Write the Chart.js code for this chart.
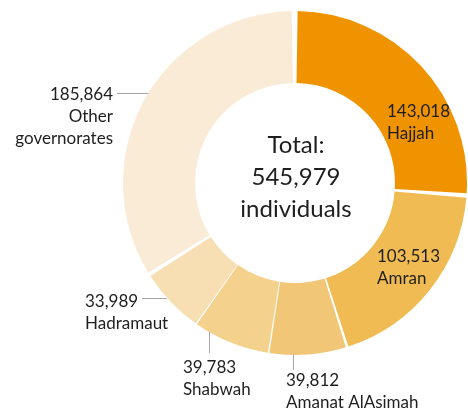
<!DOCTYPE html>
<html>
<head>
<meta charset="utf-8">
<script src="https://cdn.jsdelivr.net/npm/chart.js@4/dist/chart.umd.min.js"></script>
<style>
  html, body { margin: 0; padding: 0; background: #fff; }
  #wrap { width: 468px; height: 409px; }
</style>
</head>
<body>
<div id="wrap"><canvas id="chart" width="468" height="409"></canvas></div>
<script>
const governorates = ['Hajjah', 'Amran', 'Amanat AlAsimah', 'Shabwah', 'Hadramaut', 'Other governorates'];
const nameLines = [['Hajjah'], ['Amran'], ['Amanat AlAsimah'], ['Shabwah'], ['Hadramaut'], ['Other', 'governorates']];
const individuals = [143018, 103513, 39812, 39783, 33989, 185864];
const totalLines = ['Total:', '545,979', 'individuals'];

const SLICE_COLORS = ['#F09300', '#EFBB52', '#F2C677', '#F5D18E', '#F7DEB3', '#FAEBD7'];
const FONT = 'Lato, "Open Sans", sans-serif';
const TEXT = '#1e1e1e';
const GAP = 5;

// label placement relative to the doughnut centre (Excel style, labels placed by hand)
// leader: 'v' = vertical line down to the ring, 'h' = horizontal line across to the ring
const LABEL_LAYOUT = [
    { dx: 92,   dy: -66, align: 'left' },
    { dx: 82,   dy: 79,  align: 'left' },
    { dx: -9,   dy: 203, align: 'left',  leader: 'v', lx: -2,   lend: 187 },
    { dx: -112, dy: 190, align: 'left',  leader: 'v', lx: -86,  lend: 170 },
    { dx: -210, dy: 124, align: 'left',  leader: 'h', ly: 115,  lend: -153 },
    { dx: -182, dy: -83, align: 'right', leader: 'h', ly: -90,  lend: -178 }
];
const LINE_STEP = 22;

const fmt = n => n.toLocaleString('en-US');

const labelPlugin = {
    id: 'sliceLabels',
    afterDatasetsDraw(chart) {
        const { ctx } = chart;
        const arc = chart.getDatasetMeta(0).data[0];
        if (!arc) return;
        const { x: cx, y: cy, outerRadius } = arc.getProps(['x', 'y', 'outerRadius'], true);
        const r = outerRadius + GAP / 2; // arcs are drawn grown by half the spacing
        ctx.save();

        // centre text
        ctx.fillStyle = TEXT;
        ctx.font = `24px ${FONT}`;
        ctx.textAlign = 'center';
        ctx.textBaseline = 'alphabetic';
        totalLines.forEach((t, i) => ctx.fillText(t, cx + 1, cy - 30 + i * 32));

        // slice labels
        ctx.font = `17px ${FONT}`;
        individuals.forEach((v, i) => {
            const lay = LABEL_LAYOUT[i];
            const lines = [fmt(v), ...nameLines[i]];
            ctx.textAlign = lay.align;
            ctx.fillStyle = TEXT;
            lines.forEach((t, j) => ctx.fillText(t, cx + lay.dx, cy + lay.dy + j * LINE_STEP));

            if (lay.leader) {
                ctx.strokeStyle = '#A6A6A6';
                ctx.lineWidth = 1;
                ctx.beginPath();
                if (lay.leader === 'v') {
                    const x = Math.round(cx + lay.lx) + 0.5;
                    const yRing = cy + Math.sqrt(r * r - lay.lx * lay.lx);
                    ctx.moveTo(x, yRing);
                    ctx.lineTo(x, cy + lay.lend);
                } else {
                    const y = Math.round(cy + lay.ly) + 0.5;
                    const xRing = cx - Math.sqrt(r * r - lay.ly * lay.ly);
                    ctx.moveTo(cx + lay.lend, y);
                    ctx.lineTo(xRing, y);
                }
                ctx.stroke();
            }
        });
        ctx.restore();
    }
};

new Chart(document.getElementById('chart'), {
    type: 'doughnut',
    data: {
        labels: governorates,
        datasets: [{
            data: individuals,
            backgroundColor: SLICE_COLORS,
            borderWidth: 0,
            spacing: GAP,
            hoverOffset: 0
        }]
    },
    options: {
        responsive: false,
        animation: false,
        radius: 172 - GAP / 2,
        cutout: 100 - GAP / 2,
        layout: { padding: { left: 123, right: 1, top: 11, bottom: 54 } },
        plugins: {
            legend: { display: false },
            tooltip: { enabled: false }
        }
    },
    plugins: [labelPlugin]
});
</script>
</body>
</html>
